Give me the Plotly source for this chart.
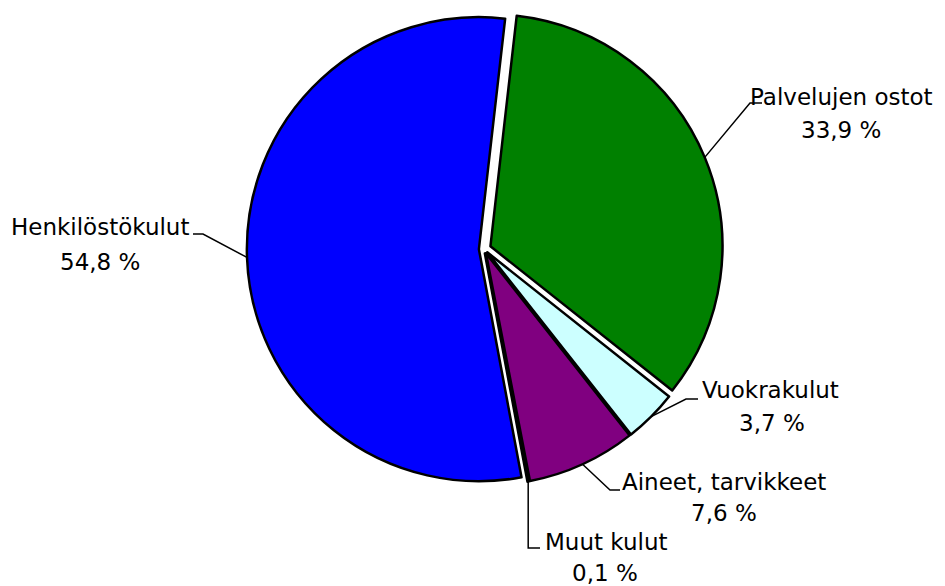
import math
import plotly.graph_objects as go

# ---- data ----
categories = ["Palvelujen ostot", "Vuokrakulut", "Aineet, tarvikkeet", "Muut kulut", "Henkilöstökulut"]
values = [33.9, 3.7, 7.6, 0.1, 54.8]
pct_labels = ["33,9 %", "3,7 %", "7,6 %", "0,1 %", "54,8 %"]

# ---- style ----
colors = ["#008000", "#CCFFFF", "#800080", "#000000", "#0000FF"]
pulls = [0.03, 0.02, 0.02, 0.02, 0.022]
W, H = 945, 586
OFF = 8  # page body margin in the browser
ROT = 6.5
FONT = dict(family="DejaVu Sans", size=23, color="#000000")

# target pie geometry in page pixels
CX, CY, BOX = 484, 249, 478
DOM_X = [(CX - OFF - 295) / W, (CX - OFF + 295) / W]
DOM_Y = [1 - (CY - OFF + BOX / 2) / H, 1 - (CY - OFF - BOX / 2) / H]

# label placement (page pixels): elbow point, end of horizontal stub, name centre, percent centre
label_pos = {
    "Palvelujen ostot": dict(elbow=(750, 103), stub=762, name=(841, 97), pct=(841, 130)),
    "Vuokrakulut": dict(elbow=(686, 399), stub=698, name=(770, 390), pct=(772, 423)),
    "Aineet, tarvikkeet": dict(elbow=(610, 490), stub=620, name=(724, 482), pct=(724, 513)),
    "Muut kulut": dict(elbow=(None, 548), stub=540, name=(606, 542), pct=(605, 573)),
    "Henkilöstökulut": dict(elbow=(203, 234), stub=193, name=(100, 227), pct=(100, 262)),
}

fig = go.Figure(go.Pie(
    labels=categories, values=values, sort=False, direction="clockwise",
    rotation=ROT, pull=pulls, textinfo="none", hoverinfo="label+percent",
    marker=dict(colors=colors, line=dict(color="#000000", width=2.5)),
    domain=dict(x=DOM_X, y=DOM_Y), showlegend=False,
))

# replicate plotly's pie geometry to anchor leader lines on the slices
box_w = W * (DOM_X[1] - DOM_X[0])
box_h = H * (DOM_Y[1] - DOM_Y[0])
r = min(box_w, box_h) / (2 + 2 * max(pulls))
cx = W * (DOM_X[0] + DOM_X[1]) / 2
cy = H * (1 - DOM_Y[0]) - box_h / 2
total = sum(values)


def page2paper(x, y):
    return (x - OFF) / W, 1 - (y - OFF) / H


def fig2paper(x, y):
    return x / W, 1 - y / H


shapes = []
annotations = []
cum = 0.0
for cat, v, pct, pull in zip(categories, values, pct_labels, pulls):
    a = math.radians(ROT + 360 * (cum + v / 2) / total)
    cum += v
    pcx = cx + pull * r * math.sin(a)
    pcy = cy - pull * r * math.cos(a)
    sx = pcx + r * math.sin(a)
    sy = pcy - r * math.cos(a)
    lp = label_pos[cat]
    ex, ey = lp["elbow"]
    p0 = fig2paper(sx, sy)
    if ex is None:
        ex = sx + OFF
    p1 = page2paper(ex, ey)
    p2 = page2paper(lp["stub"], ey)
    path = "M {} {} L {} {} L {} {}".format(p0[0], p0[1], p1[0], p1[1], p2[0], p2[1])
    shapes.append(dict(type="path", path=path, xref="paper", yref="paper",
                       line=dict(color="#000000", width=1.5)))
    nx, ny = page2paper(*lp["name"])
    qx, qy = page2paper(*lp["pct"])
    annotations.append(dict(text=cat, x=nx, y=ny, xref="paper", yref="paper",
                            xanchor="center", yanchor="middle", showarrow=False, font=FONT))
    annotations.append(dict(text=pct, x=qx, y=qy, xref="paper", yref="paper",
                            xanchor="center", yanchor="middle", showarrow=False, font=FONT))

fig.update_layout(
    width=W, height=H, margin=dict(l=0, r=0, t=0, b=0),
    paper_bgcolor="white", plot_bgcolor="white",
    shapes=shapes, annotations=annotations,
)

fig.write_html("out.html")
